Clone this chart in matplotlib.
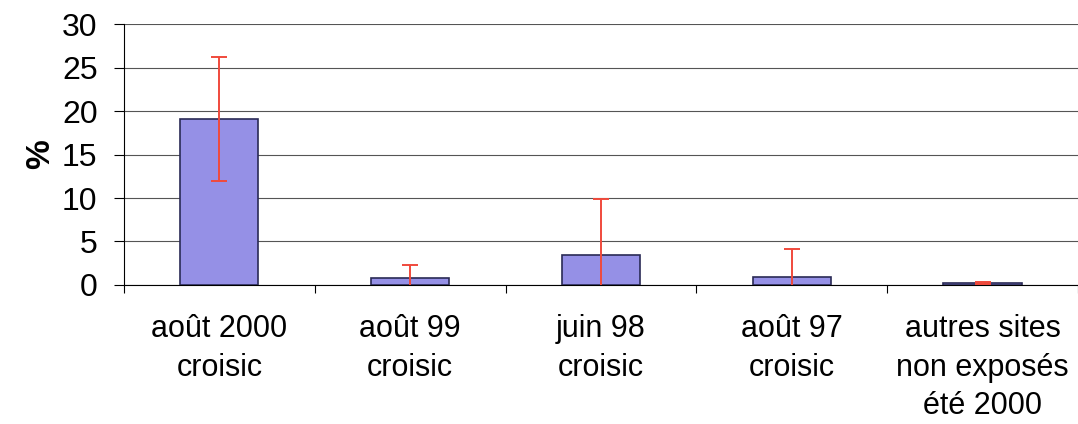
import matplotlib
matplotlib.use("Agg")
import matplotlib.pyplot as plt
import numpy as np

# data
categories = ["août 2000\ncroisic", "août 99\ncroisic", "juin 98\ncroisic",
              "août 97\ncroisic", "autres sites\nnon exposés\nété 2000"]
values = [19.1, 0.75, 3.45, 0.88, 0.2]
errors = [7.1, 1.55, 6.45, 3.2, 0.1]
yticks = [0, 5, 10, 15, 20, 25, 30]

plt.rcParams['font.family'] = ['Liberation Sans', 'DejaVu Sans']

fig = plt.figure(figsize=(10.78, 4.24), dpi=100)
ax = fig.add_axes([0.115, 0.328, 0.885, 0.615])

x = np.arange(len(categories))
ax.bar(x, values, width=0.41, color='#9590e6', edgecolor='#2a2a55', linewidth=1.2, zorder=3)
ax.errorbar(x, values, yerr=errors, fmt='none', ecolor='#f04a3c', elinewidth=1.4,
            capsize=6, capthick=1.4, zorder=4)

ax.set_xlim(-0.5, len(categories) - 0.5)
ax.set_ylim(0, 30)
ax.set_yticks(yticks)
ax.tick_params(axis='y', labelsize=23, length=7, width=0.8, pad=12)
ax.yaxis.grid(True, color='#555555', linewidth=0.8, zorder=0)
ax.set_axisbelow(True)

# category ticks at the boundaries, labels centred below each bar
ax.set_xticks(np.arange(len(categories) + 1) - 0.5)
ax.set_xticklabels([])
ax.tick_params(axis='x', length=6, width=0.8, direction='out')
for i, lab in enumerate(categories):
    ax.text(i, -3.4, lab, ha='center', va='top', fontsize=22, linespacing=1.36)

for s in ['top', 'right']:
    ax.spines[s].set_visible(False)
ax.spines['left'].set_linewidth(0.8)
ax.spines['bottom'].set_linewidth(0.8)

ax.set_ylabel('%', fontsize=24, fontweight='bold', labelpad=4)

fig.savefig('out.png', dpi=100)
